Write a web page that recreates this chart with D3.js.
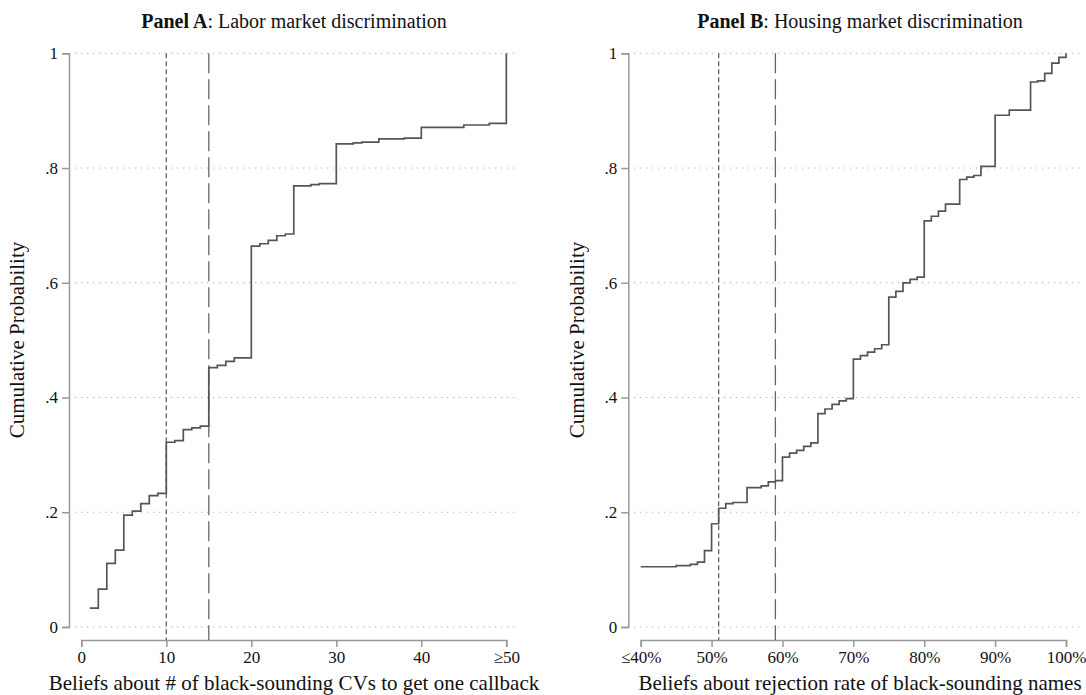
<!DOCTYPE html>
<html><head><meta charset="utf-8">
<script src="https://cdn.jsdelivr.net/npm/d3@7"></script>
<style>body{margin:0;background:#fff}</style>
</head><body>
<svg id="c" width="1086" height="695"></svg>
<script>
// ---- Data ----
const aX = [1,2,3,4,5,6,7,8,9,10,11,12,13,14,15,16,17,18,20,21,22,23,24,25,27,28,30,32,33,35,38,40,45,48,50];
const aY = [0.033,0.066,0.111,0.134,0.195,0.202,0.215,0.229,0.233,0.322,0.325,0.344,0.347,0.350,0.452,0.456,0.463,0.469,0.664,0.668,0.674,0.682,0.685,0.769,0.771,0.773,0.842,0.844,0.845,0.851,0.852,0.871,0.875,0.878,1.0];
const bX = [40,45,47,48,49,50,51,52,53,55,57,58,59,60,61,62,63,64,65,66,67,68,69,70,71,72,73,74,75,76,77,78,79,80,81,82,83,85,86,87,88,90,92,95,96,97,98,99,100];
const bY = [0.105,0.107,0.109,0.113,0.133,0.180,0.207,0.215,0.217,0.243,0.246,0.253,0.255,0.296,0.303,0.308,0.315,0.321,0.372,0.380,0.388,0.394,0.398,0.467,0.473,0.479,0.485,0.492,0.575,0.585,0.600,0.606,0.610,0.708,0.716,0.725,0.737,0.780,0.784,0.787,0.803,0.892,0.901,0.950,0.952,0.965,0.983,0.993,1.0];
const aTicks = [0,10,20,30,40,50];
const aTickLabels = ["0","10","20","30","40","≥50"];
const bTicks = [40,50,60,70,80,90,100];
const bTickLabels = ["≤40%","50%","60%","70%","80%","90%","100%"];
const yTicks = [0,0.2,0.4,0.6,0.8,1];
const yTickLabels = ["0",".2",".4",".6",".8","1"];
const aRefLines = [10,15];
const bRefLines = [51,59];

const svg = d3.select("#c");
const FONT = "'Liberation Serif','Times New Roman',serif";

function panel(cfg){
  const g = svg.append("g");
  const x = d3.scaleLinear().domain(cfg.xDomain).range(cfg.xRange);
  const y = d3.scaleLinear().domain([0,1]).range([627,53.3]);
  // grid
  g.selectAll(".grid").data(cfg.yTicks).enter().append("line")
    .attr("x1", cfg.gridX[0]).attr("x2", cfg.gridX[1])
    .attr("y1", d=>y(d)).attr("y2", d=>y(d))
    .attr("stroke","#b0b0b0").attr("stroke-width",1).attr("stroke-dasharray","1.2,4.8");
  // y axis
  const ya = d3.axisLeft(y).tickValues(cfg.yTicks).tickFormat((d,i)=>yTickLabels[i]).tickSize(7).tickPadding(4);
  const yg = g.append("g").attr("transform",`translate(${cfg.yAxisX},0)`).call(ya);
  yg.select(".domain").attr("stroke","#999").attr("stroke-width",1.5);
  yg.selectAll(".tick line").attr("stroke","#999").attr("stroke-width",1.5);
  yg.selectAll("text").attr("font-family",FONT).attr("font-size",17).attr("fill","#111");
  // x axis
  const xa = d3.axisBottom(x).tickValues(cfg.ticks).tickFormat((d,i)=>cfg.tickLabels[i]).tickSize(7).tickPadding(4);
  const xg = g.append("g").attr("transform","translate(0,640)").call(xa);
  xg.select(".domain").attr("stroke","#999").attr("stroke-width",1.5);
  xg.selectAll(".tick line").attr("stroke","#999").attr("stroke-width",1.5);
  xg.selectAll("text").attr("font-family",FONT).attr("font-size",17).attr("fill","#111");
  // reference lines
  g.append("line").attr("x1",x(cfg.ref[0])).attr("x2",x(cfg.ref[0])).attr("y1",53.3).attr("y2",640)
    .attr("stroke","#666").attr("stroke-width",1.3).attr("stroke-dasharray","5,3");
  g.append("line").attr("x1",x(cfg.ref[1])).attr("x2",x(cfg.ref[1])).attr("y1",53.3).attr("y2",640)
    .attr("stroke","#666").attr("stroke-width",1.3).attr("stroke-dasharray","20,6");
  // step line
  const pts = cfg.xs.map((v,i)=>[v,cfg.ys[i]]);
  const line = d3.line().x(d=>x(d[0])).y(d=>y(d[1])).curve(d3.curveStepAfter);
  g.append("path").datum(pts).attr("d",line).attr("fill","none")
    .attr("stroke","#555").attr("stroke-width",1.7);
  // title
  const t = g.append("text").attr("x",cfg.titleX).attr("y",28).attr("text-anchor","middle")
    .attr("font-family",FONT).attr("font-size",20).attr("fill","#111");
  t.append("tspan").attr("font-weight","bold").text(cfg.titleBold);
  t.append("tspan").text(cfg.titleRest);
  // x title
  g.append("text").attr("x",cfg.titleX).attr("y",690).attr("text-anchor","middle")
    .attr("font-family",FONT).attr("font-size",21).attr("fill","#111").text(cfg.xTitle);
  // y title
  g.append("text").attr("transform",`translate(${cfg.yTitleX},340) rotate(-90)`).attr("text-anchor","middle")
    .attr("font-family",FONT).attr("font-size",21).attr("fill","#111").text("Cumulative Probability");
}

panel({xDomain:[0,50], xRange:[81.3,506.3], gridX:[75,518], yAxisX:69, yTicks:yTicks,
  ticks:aTicks, tickLabels:aTickLabels, ref:aRefLines, xs:aX, ys:aY, titleX:294,
  titleBold:"Panel A", titleRest:": Labor market discrimination",
  xTitle:"Beliefs about # of black-sounding CVs to get one callback", yTitleX:24});
panel({xDomain:[40,100], xRange:[640.7,1066], gridX:[634,1080], yAxisX:628.3, yTicks:yTicks,
  ticks:bTicks, tickLabels:bTickLabels, ref:bRefLines, xs:bX, ys:bY, titleX:860,
  titleBold:"Panel B", titleRest:": Housing market discrimination",
  xTitle:"Beliefs about rejection rate of black-sounding names", yTitleX:584});
</script>
</body></html>
